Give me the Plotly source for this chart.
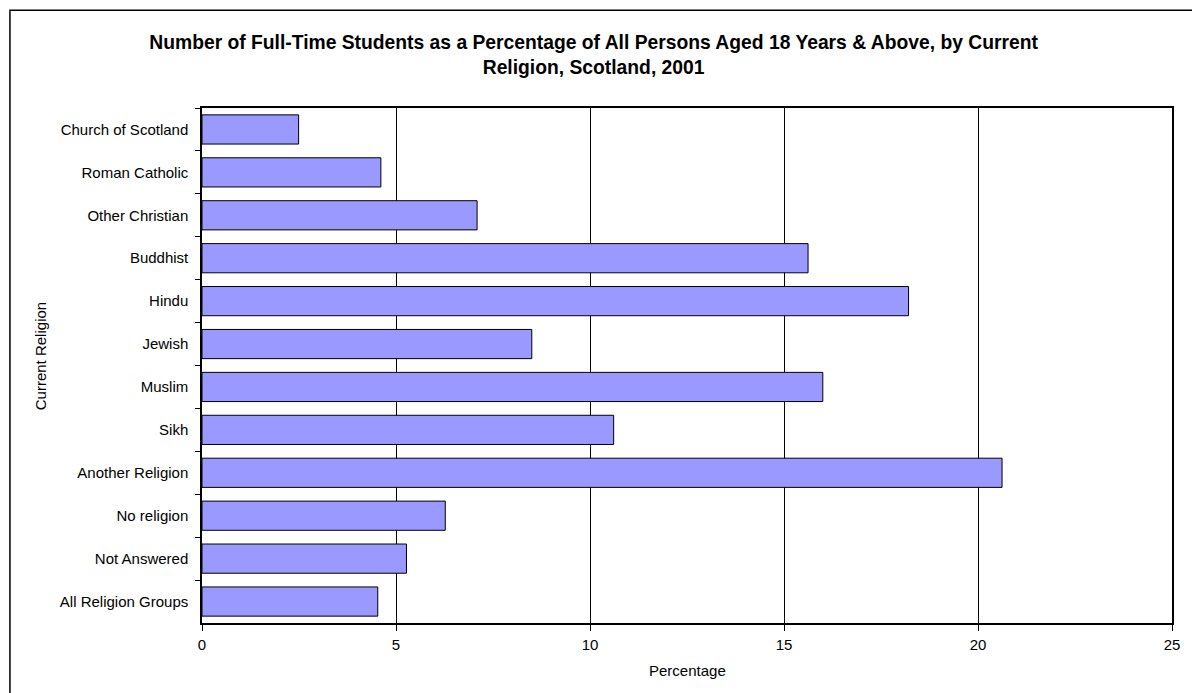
"""
bar chart: full-time students as share of adults by religion, Scotland 2001
"""

import plotly.graph_objs as go

# categories top to bottom, as shown in the chart
religions = [
    'Church of Scotland', 'Roman Catholic', 'Other Christian', 'Buddhist',
    'Hindu', 'Jewish', 'Muslim', 'Sikh', 'Another Religion', 'No religion',
    'Not Answered', 'All Religion Groups',
]
percentages = [2.49, 4.61, 7.09, 15.62, 18.21, 8.50, 16.0, 10.61, 20.62, 6.27, 5.27, 4.53]
x_ticks = [0, 5, 10, 15, 20, 25]

font_family = 'Arial, Liberation Sans, sans-serif'

fig = go.Figure()

fig.add_trace(go.Bar(
    x=percentages,
    y=religions,
    orientation='h',
    marker=dict(color='#9999FF', line=dict(color='#000000', width=1)),
    hoverinfo='x+y',
))

fig.update_layout(
    width=1192,
    height=693,
    margin=dict(l=202, r=14, t=108, b=70),
    paper_bgcolor='white',
    plot_bgcolor='white',
    showlegend=False,
    bargap=0.32,
    font=dict(family=font_family, color='#000000', size=15),
    title=dict(
        text='<b>Number of Full-Time Students as a Percentage of All Persons Aged 18 Years &amp; Above, by Current<br>Religion, Scotland, 2001</b>',
        x=0.498, xanchor='center', xref='container',
        y=0.930, yanchor='middle',
        font=dict(size=19.3, family=font_family, color='#000000'),
    ),
    xaxis=dict(
        range=[0, 25],
        tickvals=x_ticks,
        showgrid=True,
        gridcolor='#000000',
        gridwidth=1,
        zeroline=False,
        showline=True,
        linecolor='#000000',
        linewidth=1.5,
        mirror=True,
        ticks='outside',
        ticklen=6,
        tickcolor='#000000',
        tickfont=dict(size=15),
        ticklabelstandoff=1,
        ticklabeloverflow='allow',
    ),
    yaxis=dict(
        categoryorder='array',
        categoryarray=religions,
        autorange='reversed',
        showgrid=False,
        showline=True,
        linecolor='#000000',
        linewidth=1.5,
        mirror=True,
        ticks='outside',
        tickson='boundaries',
        ticklen=5,
        tickcolor='#000000',
        tickfont=dict(size=15),
        ticklabelstandoff=9,
    ),
    annotations=[
        dict(text='Percentage', xref='paper', yref='paper', x=0.5, y=-0.093,
             xanchor='center', yanchor='middle', showarrow=False,
             font=dict(size=15)),
        dict(text='Current Religion', xref='paper', yref='paper', x=-0.167, y=0.518,
             xanchor='center', yanchor='middle', showarrow=False, textangle=-90,
             font=dict(size=15)),
    ],
)

# outer chart border (left and top visible; right/bottom run off the page)
fig.add_shape(
    type='rect', xref='paper', yref='paper',
    x0=-0.198, x1=1.1, y0=-0.3, y1=1.19,
    line=dict(color='#000000', width=1.5),
    fillcolor='rgba(0,0,0,0)',
    layer='below',
)

# drop the default 8px body margin so the figure fills the window exactly
fig.write_html(
    "out.html",
    config={'displayModeBar': False},
    post_script="document.body.style.margin = '0';",
)
